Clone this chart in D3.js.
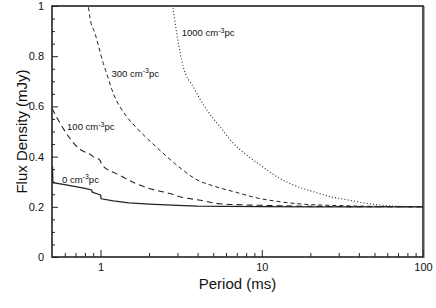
<!DOCTYPE html>
<html>
<head>
<meta charset="utf-8">
<script src="https://cdn.jsdelivr.net/npm/d3@7/dist/d3.min.js"></script>
<style>
  body { margin: 0; background: #fff; }
  svg { display: block; font-family: "Liberation Sans", Arial, Helvetica, sans-serif; }
</style>
</head>
<body>
<div id="chart"></div>
<script>
// period (ms), flux density (mJy), one array per DM
const dm0 = [[0.504, 0.36], [0.506, 0.296], [0.6, 0.288], [0.7, 0.28], [0.8, 0.273], [0.88, 0.267],
  [0.89, 0.258], [0.95, 0.252], [1.0, 0.247], [1.01, 0.232], [1.2, 0.224], [1.5, 0.216],
  [2, 0.211], [3, 0.206], [4, 0.203], [6, 0.202], [10, 0.201], [20, 0.2], [100, 0.2]];
const dm100 = [[0.5, 0.592], [0.54, 0.552], [0.635, 0.479], [0.73, 0.433], [0.88, 0.405],
  [0.9, 0.4], [0.99, 0.386], [1.02, 0.368], [1.3, 0.327], [1.64, 0.294], [2.08, 0.27],
  [2.65, 0.254], [3.2, 0.238], [4.07, 0.227], [5.5, 0.212], [7.5, 0.208], [9.8, 0.206],
  [15.6, 0.203], [30, 0.201], [100, 0.2]];
const dm300 = [[0.82, 1.05], [0.84, 1.0], [0.861, 0.951], [0.924, 0.891], [1.04, 0.772],
  [1.09, 0.732], [1.2, 0.652], [1.45, 0.56], [1.7, 0.51], [2.29, 0.43], [3.05, 0.36],
  [3.9, 0.31], [5.2, 0.28], [7, 0.257], [9.1, 0.237], [13, 0.22], [18.6, 0.21],
  [34, 0.204], [60, 0.201], [100, 0.2]];
const dm1000 = [[2.75, 1.03], [2.8, 1.0], [2.97, 0.891], [3.26, 0.758], [3.76, 0.678],
  [4.56, 0.586], [5.51, 0.519], [6.66, 0.453], [8.07, 0.406], [9.76, 0.367], [12.4, 0.32],
  [15.7, 0.287], [20.9, 0.26], [27.8, 0.238], [34.4, 0.227], [44.4, 0.214], [61.6, 0.204],
  [80, 0.201], [100, 0.2]];

const xMajor = [1, 10, 100];
const xMinor = [0.6, 0.7, 0.8, 0.9, 2, 3, 4, 5, 6, 7, 8, 9, 20, 30, 40, 50, 60, 70, 80, 90];
const yMajor = [0, 0.2, 0.4, 0.6, 0.8, 1];
const yMinor = [0.05, 0.1, 0.15, 0.25, 0.3, 0.35, 0.45, 0.5, 0.55, 0.65, 0.7, 0.75, 0.85, 0.9, 0.95];

const series = [
  { data: dm0, dash: null, width: 1.3, curve: d3.curveLinear, label: '0', lx: 0.577, ly: 0.295 },
  { data: dm100, dash: '6,4', width: 1.1, curve: d3.curveMonotoneX, label: '100', lx: 0.62, ly: 0.504 },
  { data: dm300, dash: '4,3', width: 1, curve: d3.curveMonotoneX, label: '300', lx: 1.17, ly: 0.719 },
  { data: dm1000, dash: '1,2.2', width: 1.1, curve: d3.curveMonotoneX, label: '1000', lx: 3.19, ly: 0.88 },
];

const width = 436;
const height = 308;
const margin = { top: 6, right: 13, bottom: 51, left: 52 };
const innerW = width - margin.left - margin.right;
const innerH = height - margin.top - margin.bottom;

const svg = d3.select('#chart').append('svg')
  .attr('width', width)
  .attr('height', height);

const g = svg.append('g')
  .attr('transform', `translate(${margin.left},${margin.top})`);

const x = d3.scaleLog().domain([0.5, 100]).range([0, innerW]);
const y = d3.scaleLinear().domain([0, 1]).range([innerH, 0]);

g.append('clipPath').attr('id', 'plot-clip')
  .append('rect').attr('width', innerW).attr('height', innerH);

// curves
const line = d3.line().x(d => x(d[0])).y(d => y(d[1]));

g.append('g')
  .attr('clip-path', 'url(#plot-clip)')
  .selectAll('path')
  .data(series)
  .join('path')
  .attr('d', s => line.curve(s.curve)(s.data))
  .attr('fill', 'none')
  .attr('stroke', '#222')
  .attr('stroke-width', s => s.width)
  .attr('stroke-dasharray', s => s.dash);

// curve labels
const labels = g.append('g')
  .attr('font-size', '9.5px')
  .attr('fill', '#111')
  .selectAll('text')
  .data(series)
  .join('text')
  .attr('x', s => x(s.lx))
  .attr('y', s => y(s.ly));

labels.append('tspan').text(s => `${s.label} cm`);
labels.append('tspan').attr('dy', -3.5).attr('font-size', '7px').text('-3');
labels.append('tspan').attr('dy', 3.5).text('pc');

// axes, ticks point into the plot
const styleAxis = sel => {
  sel.select('.domain').remove();
  sel.selectAll('line').attr('stroke', '#222').attr('stroke-width', 1);
  sel.selectAll('text').attr('fill', '#111').attr('font-size', '11px');
};

g.append('g')
  .attr('transform', `translate(0,${innerH})`)
  .call(d3.axisBottom(x).tickValues(xMajor).tickFormat(d3.format('d')).tickSize(-7).tickPadding(6))
  .call(styleAxis);

g.append('g')
  .attr('transform', `translate(0,${innerH})`)
  .call(d3.axisBottom(x).tickValues(xMinor).tickFormat('').tickSize(-4))
  .call(styleAxis);

g.append('g')
  .call(d3.axisLeft(y).tickValues(yMajor).tickFormat(d3.format('~g')).tickSize(-6).tickPadding(8))
  .call(styleAxis);

g.append('g')
  .call(d3.axisLeft(y).tickValues(yMinor).tickFormat('').tickSize(-3))
  .call(styleAxis);

// frame
g.append('rect')
  .attr('width', innerW)
  .attr('height', innerH)
  .attr('fill', 'none')
  .attr('stroke', '#222')
  .attr('stroke-width', 1.6);

g.append('line')
  .attr('x1', innerW + 1).attr('x2', innerW + 1)
  .attr('y1', 0).attr('y2', innerH + 1)
  .attr('stroke', '#555')
  .attr('stroke-width', 1);

// axis titles
svg.append('text')
  .attr('x', margin.left + innerW / 2)
  .attr('y', 289)
  .attr('text-anchor', 'middle')
  .attr('font-size', '15px')
  .attr('fill', '#111')
  .text('Period (ms)');

svg.append('text')
  .attr('transform', `translate(27,${margin.top + innerH / 2}) rotate(-90)`)
  .attr('text-anchor', 'middle')
  .attr('font-size', '15px')
  .attr('fill', '#111')
  .text('Flux Density (mJy)');
</script>
</body>
</html>
